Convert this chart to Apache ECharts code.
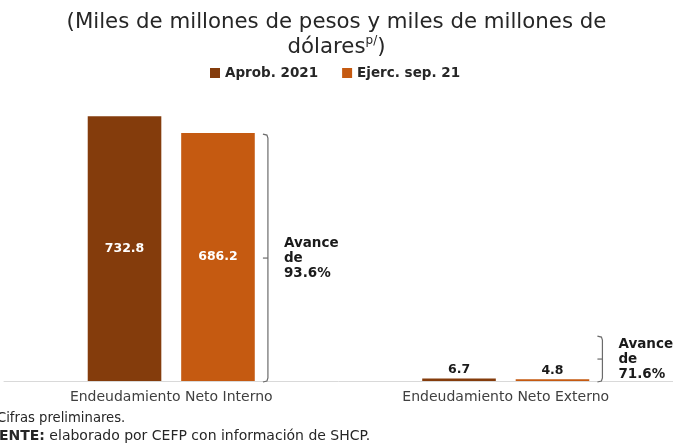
<!DOCTYPE html>
<html>
<head>
<meta charset="utf-8">
<script src="https://cdn.jsdelivr.net/npm/echarts@6/dist/echarts.min.js"></script>
<style>
html,body{margin:0;padding:0;background:#fff;}
#c{width:673px;height:448px;}
</style>
</head>
<body>
<div id="c"></div>
<script>
var categories = ['Endeudamiento Neto Interno', 'Endeudamiento Neto Externo'];
var seriesNames = ['Aprob. 2021', 'Ejerc. sep. 21'];
var aprob = [732.8, 6.7];
var ejerc = [686.2, 4.8];
// bracket annotations: [categoryIndex, from, to]
var bracketRanges = [[0, 0, 686.2], [1, 0, 127]];
var bracketLabels = ['Avance\nde\n93.6%', 'Avance\nde\n71.6%'];

var FONT = 'DejaVu Sans';
var colors = ['#843C0C', '#C55A11'];

function makeData(vals) {
  return vals.map(function (v) {
    if (v < 100) {
      return { value: v, label: { position: 'top', color: '#1a1a1a', distance: 2 } };
    }
    return { value: v };
  });
}

var chart = echarts.init(document.getElementById('c'));
chart.setOption({
  animation: false,
  textStyle: { fontFamily: FONT },
  title: {
    text: '(Miles de millones de pesos y miles de millones de\ndólares{sup|p/})',
    left: 'center',
    top: 5,
    textStyle: {
      fontFamily: FONT, fontSize: 21.3, fontWeight: 'normal', color: '#262626', lineHeight: 25,
      rich: { sup: { fontSize: 12, verticalAlign: 'top', color: '#262626', fontFamily: FONT, lineHeight: 14 } }
    }
  },
  legend: {
    top: 61,
    left: 205,
    itemWidth: 10,
    itemHeight: 10,
    itemGap: 24,
    icon: 'rect',
    textStyle: { fontFamily: FONT, fontSize: 13.5, fontWeight: 'bold', color: '#262626' },
    data: seriesNames
  },
  grid: { left: 4, right: 0, top: 92, bottom: 67, containLabel: false },
  xAxis: {
    type: 'category',
    data: categories,
    axisLine: { lineStyle: { color: '#d9d9d9' } },
    axisTick: { show: false },
    axisLabel: { fontFamily: FONT, fontSize: 14, color: '#404040', margin: 9 }
  },
  yAxis: {
    type: 'value', min: 0, max: 800, show: false,
    splitLine: { show: false }
  },
  series: [
    {
      name: seriesNames[0], type: 'bar', data: makeData(aprob),
      barWidth: '22%', barGap: '27%',
      itemStyle: { color: colors[0] },
      label: { show: true, position: 'inside', color: '#fff', fontWeight: 'bold', fontSize: 12.5, fontFamily: FONT,
        formatter: function (p) { return p.value.toFixed(1); } }
    },
    {
      name: seriesNames[1], type: 'bar', data: makeData(ejerc),
      barWidth: '22%', barGap: '27%',
      itemStyle: { color: colors[1] },
      label: { show: true, position: 'inside', color: '#fff', fontWeight: 'bold', fontSize: 12.5, fontFamily: FONT,
        formatter: function (p) { return p.value.toFixed(1); } }
    },
    {
      type: 'custom',
      clip: false,
      silent: true,
      data: bracketRanges.map(function (r, i) { return [r[0], r[1], r[2], i]; }),
      renderItem: function (params, api) {
        var cat = api.value(0);
        var idx = api.value(3);
        var band = api.size([1, 0])[0];
        var pLow = api.coord([cat, api.value(1)]);
        var pHigh = api.coord([cat, api.value(2)]);
        var x = pLow[0] + band * 0.289;
        var top = pHigh[1] + 1, bot = pLow[1] + 1;
        var mid = (top + bot) / 2;
        var ls = { stroke: '#6b6b6b', lineWidth: 1.2, fill: null };
        return {
          type: 'group',
          children: [
            { type: 'polyline', shape: { points: [[x - 5, top], [x - 1, top + 1], [x, top + 4], [x, bot - 4], [x - 1, bot - 1], [x - 5, bot]] }, style: ls },
            { type: 'line', shape: { x1: x, y1: mid, x2: x - 5, y2: mid }, style: ls },
            { type: 'text', x: x + 16, y: mid, style: {
                text: bracketLabels[idx], fontFamily: FONT, fontSize: 13.5, fontWeight: 'bold',
                fill: '#1a1a1a', lineHeight: 15, verticalAlign: 'middle', align: 'left' } }
          ]
        };
      }
    }
  ],
  graphic: [
    { type: 'text', left: -3, top: 412, style: { text: 'Cifras preliminares.', fontFamily: FONT, fontSize: 13.2, fill: '#262626' } },
    { type: 'text', left: -22, top: 429, style: {
        text: '{b|FUENTE:} elaborado por CEFP con información de SHCP.', fontFamily: FONT, fontSize: 14, fill: '#262626',
        rich: { b: { fontWeight: 'bold', fontFamily: FONT, fontSize: 14, fill: '#262626' } } } }
  ]
});
</script>
</body>
</html>
